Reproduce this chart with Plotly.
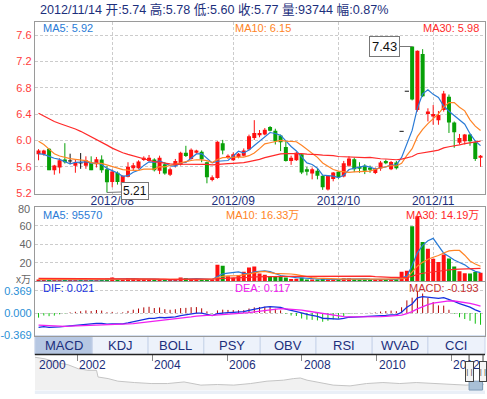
import plotly.graph_objects as go

# ---------------- data ----------------
month_idx = [14, 37, 57, 75]
month_labels = ["2012/08", "2012/09", "2012/10", "2012/11"]
price_ticks = [5.2, 5.6, 6.0, 6.4, 6.8, 7.2, 7.6]
vol_ticks = [20, 40, 60, 80]
macd_ticks = [-0.369, 0.0, 0.369]

opens = [5.79, 5.79, 5.875, 5.55, 5.59, 5.71, 5.69, 5.615, 5.66, 5.615,
         5.665, 5.64, 5.71, 5.565, 5.37, 5.51, 5.32, 5.45, 5.58, 5.58,
         5.705, 5.69, 5.71, 5.54, 5.64, 5.48, 5.615, 5.63, 5.815, 5.72,
         5.82, 5.83, 5.67, 5.40, 5.43, 5.96, 5.74, 5.70, 5.75, 5.77,
         5.865, 6.04, 6.08, 6.09, 6.205, 6.15, 6.075, 5.90, 5.69, 5.70,
         5.79, 5.565, 5.50, 5.54, 5.465, 5.255, 5.415, 5.525, 5.455, 5.615,
         5.715, 5.595, 5.615, 5.58, 5.505, 5.575, 5.69, 5.565, 5.665, 6.14,
         6.75, 7.43, 6.465, 7.315, 6.405, 6.365, 6.31, 6.465, 6.665, 6.275,
         5.965, 5.99, 6.09, 5.975, 5.74]
highs = [5.87, 5.86, 5.88, 5.63, 5.73, 5.96, 5.80, 5.71, 5.81, 5.76,
         5.76, 5.75, 5.775, 5.61, 5.56, 5.53, 5.47, 5.67, 5.66, 5.70,
         5.76, 5.78, 5.73, 5.77, 5.67, 5.59, 5.72, 5.83, 5.92, 5.88,
         5.86, 5.85, 5.68, 5.47, 5.99, 6.01, 5.79, 5.82, 5.81, 5.88,
         6.09, 6.31, 6.16, 6.19, 6.22, 6.18, 6.09, 5.99, 5.77, 5.83,
         5.80, 5.60, 5.59, 5.58, 5.47, 5.47, 5.52, 5.53, 5.69, 5.76,
         5.74, 5.67, 5.64, 5.62, 5.59, 5.69, 5.71, 5.69, 5.69, 6.14,
         6.75, 7.43, 7.37, 7.39, 6.49, 6.54, 6.45, 6.755, 6.70, 6.29,
         6.10, 6.10, 6.10, 5.99, 5.78]
lows = [5.70, 5.77, 5.55, 5.48, 5.50, 5.65, 5.64, 5.51, 5.57, 5.57,
        5.55, 5.59, 5.51, 5.21, 5.29, 5.33, 5.28, 5.44, 5.54, 5.57,
        5.69, 5.68, 5.53, 5.49, 5.48, 5.46, 5.59, 5.62, 5.75, 5.71,
        5.80, 5.67, 5.35, 5.38, 5.42, 5.79, 5.72, 5.69, 5.73, 5.76,
        5.85, 6.01, 6.05, 6.08, 6.14, 5.94, 5.84, 5.68, 5.63, 5.69,
        5.49, 5.47, 5.41, 5.41, 5.25, 5.24, 5.38, 5.42, 5.44, 5.60,
        5.52, 5.51, 5.49, 5.51, 5.49, 5.54, 5.64, 5.55, 5.56, 6.14,
        6.75, 6.61, 6.44, 6.66, 6.29, 6.24, 6.24, 6.44, 6.115, 5.89,
        5.94, 5.94, 5.92, 5.69, 5.60]
closes = [5.85, 5.85, 5.55, 5.62, 5.70, 5.67, 5.69, 5.665, 5.66, 5.70,
          5.55, 5.715, 5.55, 5.365, 5.53, 5.37, 5.465, 5.60, 5.625, 5.68,
          5.74, 5.74, 5.55, 5.74, 5.50, 5.565, 5.69, 5.815, 5.765, 5.86,
          5.85, 5.715, 5.44, 5.44, 5.98, 5.85, 5.77, 5.79, 5.80, 5.85,
          6.065, 6.115, 6.115, 6.165, 6.15, 5.99, 5.975, 5.69, 5.74, 5.815,
          5.515, 5.54, 5.565, 5.465, 5.29, 5.465, 5.515, 5.44, 5.655, 5.725,
          5.565, 5.585, 5.54, 5.565, 5.575, 5.665, 5.655, 5.675, 5.58, 6.14,
          6.75, 6.625, 7.365, 6.675, 6.44, 6.405, 6.39, 6.715, 6.275, 6.125,
          6.04, 6.09, 5.99, 5.72, 5.77]
volumes = [20000, 16000, 24000, 16000, 16000, 24000, 12000, 12000, 22000, 16000,
           16000, 16000, 24000, 30000, 42000, 20000, 16000, 38000, 38000, 24000,
           24000, 20000, 20000, 20000, 14000, 14000, 22000, 42000, 38000, 24000,
           20000, 16000, 24000, 20000, 180000, 170000, 55000, 40000, 68000, 105000,
           150000, 160000, 85000, 72000, 58000, 53000, 53000, 43000, 25000, 30000,
           40000, 20000, 20000, 20000, 25000, 20000, 20000, 20000, 35000, 35000,
           25000, 20000, 20000, 20000, 20000, 25000, 25000, 20000, 20000, 105000,
           115000, 597000, 704000, 427000, 352000, 246000, 210000, 290000, 248000, 161000,
           109000, 87000, 85000, 103000, 93744]

# moving-average values before enough history is visible
ma5_head = [5.80, 5.79, 5.76, 5.73]
ma10_head = [5.99, 5.94, 5.87, 5.80, 5.765, 5.74, 5.725, 5.715, 5.70]
ma30_head = [6.415, 6.37, 6.33, 6.29, 6.26, 6.235, 6.21, 6.175, 6.14, 6.10,
             6.06, 6.015, 5.975, 5.93, 5.885, 5.845, 5.815, 5.79, 5.765, 5.74,
             5.72, 5.70, 5.68, 5.665, 5.655, 5.645, 5.64, 5.64, 5.64]
vma5_head = [20000, 19000, 19000, 19000]
vma10_head = [22000, 22000, 21000, 21000, 21000, 20000, 20000, 20000, 19000]
vma30_head = [32000, 32000, 31000, 31000, 30000, 30000, 29000, 29000, 28000, 28000,
              27000, 27000, 27000, 26000, 26000, 26000, 25000, 25000, 25000, 25000,
              24000, 24000, 24000, 24000, 24000, 23000, 23000, 23000, 23000]
# EMA state before the first visible day (read from DIF/DEA start)
ema12_seed = 5.93
ema26_seed = 6.18
dea_seed = -0.19

nav_years = [2000.86, 2001.13, 2001.49, 2001.75, 2002.02, 2002.28, 2002.51, 2002.55,
             2002.82, 2003.08, 2003.52, 2003.97, 2004.41, 2004.85, 2005.30, 2005.74,
             2006.18, 2006.63, 2007.07, 2007.51, 2007.78, 2007.96, 2008.14, 2008.40,
             2008.84, 2009.29, 2009.73, 2010.17, 2010.62, 2011.06, 2011.50, 2011.94,
             2012.39, 2012.87]
nav_close = [16.6, 15.8, 13.8, 12.8, 10.8, 10.0, 10.0, 6.6,
             5.8, 4.5, 3.8, 3.3, 3.3, 4.1, 2.5, 2.8,
             2.5, 3.3, 4.5, 5.0, 5.8, 6.1, 5.0, 4.1,
             2.5, 2.1, 3.3, 3.8, 3.3, 3.8, 3.3, 2.8,
             2.5, 3.0]
nav_year_labels = [2000, 2002, 2004, 2006, 2008, 2010, 2012]
tab_names = ["MACD", "KDJ", "BOLL", "PSY", "OBV", "RSI", "WVAD", "CCI"]

header = "2012/11/14 开:5.74 高:5.78 低:5.60 收:5.77 量:93744 幅:0.87%"
ma_texts = ["MA5: 5.92", "MA10: 6.15", "MA30: 5.98"]
vma_texts = ["MA5: 95570", "MA10: 16.33万", "MA30: 14.19万"]
macd_texts = ["DIF: 0.021", "DEA: 0.117", "MACD: -0.193"]

# ---------------- derived series ----------------
n = len(closes)
idx = list(range(n))


def rolling(vals, w, head):
    out = list(head)
    for i in range(len(head), len(vals)):
        out.append(sum(vals[i - w + 1:i + 1]) / w)
    return out


ma5 = rolling(closes, 5, ma5_head)
ma10 = rolling(closes, 10, ma10_head)
ma30 = rolling(closes, 30, ma30_head)
vma5 = rolling(volumes, 5, vma5_head)
vma10 = rolling(volumes, 10, vma10_head)
vma30 = rolling(volumes, 30, vma30_head)

dif, dea, macd = [], [], []
e12, e26, d = ema12_seed, ema26_seed, dea_seed
for c in closes:
    e12 += (c - e12) * 2 / 13
    e26 += (c - e26) * 2 / 27
    df = e12 - e26
    d += (df - d) * 2 / 10
    dif.append(df)
    dea.append(d)
    macd.append(2 * (df - d))

RED = "#ff1010"
GREEN = "#08a008"
BLACK = "#111111"

cols = []
for i in idx:
    if closes[i] > opens[i]:
        cols.append(RED)
    elif closes[i] < opens[i]:
        cols.append(GREEN)
    else:
        cols.append(BLACK)
vcols = []
for i in idx:
    if closes[i] > opens[i]:
        vcols.append(RED)
    elif closes[i] < opens[i]:
        vcols.append(GREEN)
    else:
        prev = closes[i - 1] if i > 0 else closes[i]
        vcols.append(RED if closes[i] >= prev else GREEN)

# ---------------- figure ----------------
W, H = 487, 399


def px(x):
    return x / W


def py(y):
    return 1 - y / H


FONT = "Liberation Sans, Arial, Noto Sans CJK SC"
NAVY = "#1c2f7c"
GRID = "#cccccc"
XR = [-0.7, 84.85]
VOL_TOP_PX, VOL_BOT_PX, VOL_MAX = 209.7, 285.0, 80.3

fig = go.Figure()

# candle bodies
body_x, body_b, body_h, body_c = [], [], [], []
for i in idx:
    if opens[i] != closes[i]:
        body_x.append(i)
        body_b.append(min(opens[i], closes[i]))
        body_h.append(abs(closes[i] - opens[i]))
        body_c.append(cols[i])
fig.add_trace(go.Bar(x=body_x, y=body_h, base=body_b, marker_color=body_c,
                     marker_line_width=0, width=0.76, xaxis="x", yaxis="y",
                     hoverinfo="skip"))
# wicks and flat marks per colour
for colr in (RED, GREEN, BLACK):
    wx, wy = [], []
    for i in idx:
        if cols[i] != colr:
            continue
        if highs[i] > lows[i]:
            wx += [i, i, None]
            wy += [lows[i], highs[i], None]
        if opens[i] == closes[i]:
            wx += [i - 0.4, i + 0.4, None]
            wy += [closes[i], closes[i], None]
    fig.add_trace(go.Scatter(x=wx, y=wy, mode="lines", line=dict(color=colr, width=1),
                             xaxis="x", yaxis="y", hoverinfo="skip"))

C5, C10, C30 = "#2a7bd6", "#ff8426", "#ff2a2a"
for arr, c in ((ma5, C5), (ma10, C10), (ma30, C30)):
    fig.add_trace(go.Scatter(x=idx, y=arr, mode="lines", line=dict(color=c, width=1.2),
                             xaxis="x", yaxis="y", hoverinfo="skip"))

# volume
fig.add_trace(go.Bar(x=idx, y=[v / 1e4 for v in volumes], marker_color=vcols,
                     marker_line_width=0, width=0.76, xaxis="x2", yaxis="y2",
                     hoverinfo="skip"))
for arr, c in ((vma5, C5), (vma10, C10), (vma30, C30)):
    fig.add_trace(go.Scatter(x=idx, y=[v / 1e4 for v in arr], mode="lines",
                             line=dict(color=c, width=1.2), xaxis="x2", yaxis="y2",
                             hoverinfo="skip"))

# MACD histogram as thin sticks
for sign, colr in ((1, "#b00000"), (-1, "#10c010")):
    hx, hy = [], []
    for i in idx:
        if (macd[i] >= 0) == (sign > 0):
            hx += [i, i, None]
            hy += [0, macd[i], None]
    fig.add_trace(go.Scatter(x=hx, y=hy, mode="lines", line=dict(color=colr, width=1),
                             xaxis="x3", yaxis="y3", hoverinfo="skip"))
fig.add_trace(go.Scatter(x=idx, y=dif, mode="lines", line=dict(color="#1530e0", width=1.3),
                         xaxis="x3", yaxis="y3", hoverinfo="skip"))
fig.add_trace(go.Scatter(x=idx, y=dea, mode="lines", line=dict(color="#f020f0", width=1.3),
                         xaxis="x3", yaxis="y3", hoverinfo="skip"))

# navigator
fig.add_trace(go.Scatter(x=nav_years, y=nav_close, mode="lines", fill="tozeroy",
                         fillcolor="#f1f1f1", line=dict(color="#c4c4c4", width=1),
                         xaxis="x4", yaxis="y4", hoverinfo="skip"))

xdom = [px(33), px(485)]
common_x = dict(domain=xdom, range=XR, showline=True, linecolor="#9a9a9a", mirror=True,
                zeroline=False, ticks="", fixedrange=True)
gridkw = dict(showgrid=True, gridcolor=GRID, griddash="3px,2px", gridwidth=1)

fig.update_layout(
    width=W, height=H, margin=dict(l=0, r=0, t=0, b=0),
    paper_bgcolor="white", plot_bgcolor="white", showlegend=False,
    barmode="overlay", font=dict(family=FONT),
    xaxis=dict(**common_x, anchor="y", tickvals=month_idx, ticktext=month_labels,
               tickfont=dict(size=12, color=NAVY), ticklabelstandoff=-4, **gridkw),
    yaxis=dict(domain=[py(196), py(22)], range=[5.194, 7.807], anchor="x",
               tickvals=price_ticks, ticktext=["%.1f" % v for v in price_ticks],
               tickfont=dict(size=11, color="#ff3b3b"), showline=True, linecolor="#9a9a9a",
               mirror=True, zeroline=False, ticks="", **gridkw),
    xaxis2=dict(**common_x, anchor="y2", tickvals=month_idx, showticklabels=False, **gridkw),
    yaxis2=dict(domain=[py(VOL_BOT_PX), py(VOL_TOP_PX)], range=[0, VOL_MAX], anchor="x2",
                tickvals=vol_ticks[:-1], ticktext=[str(v) for v in vol_ticks[:-1]],
                tickfont=dict(size=11, color="#666666"), showline=True, linecolor="#9a9a9a",
                mirror=True, zeroline=False, ticks="", **gridkw),
    xaxis3=dict(**common_x, anchor="y3", showticklabels=False, showgrid=False),
    yaxis3=dict(domain=[py(340), py(286)], range=[-0.377, 0.508], anchor="x3",
                tickvals=macd_ticks, ticktext=["-0.369", "0.000", "0.369"],
                tickfont=dict(size=11, color="#2a8fd6"), showline=True, linecolor="#9a9a9a",
                mirror=True, zeroline=False, ticks="", **gridkw),
    xaxis4=dict(domain=xdom, range=[2000.86, 2012.9], anchor="y4", side="top",
                tickvals=[2002, 2004, 2006, 2008, 2010, 2012], ticks="inside", ticklen=6,
                tickcolor="#888888", showticklabels=False, showgrid=False, showline=False,
                zeroline=False, fixedrange=True),
    yaxis4=dict(domain=[py(395), py(359)], range=[0, 18], anchor="x4", visible=False,
                fixedrange=True),
)

ann = []


def label(text, X, Y, color, size=11, anchor="left"):
    ann.append(dict(text=text, x=px(X), y=py(Y), xref="paper", yref="paper",
                    xanchor=anchor, yanchor="middle", showarrow=False,
                    font=dict(size=size, color=color, family=FONT)))


label(header, 36, 10, NAVY, 12.6)
label(ma_texts[0], 39, 28, C5)
label(ma_texts[1], 232, 28, C10)
label(ma_texts[2], 481, 28, C30, anchor="right")
label(vma_texts[0], 39, 218, C5)
label(vma_texts[1], 223, 218, C10)
label(vma_texts[2], 481, 218, C30, anchor="right")
label(macd_texts[0], 39, 292, "#1530e0")
label(macd_texts[1], 232, 292, "#f020f0")
label(macd_texts[2], 481, 292, "#c83030", anchor="right")
label("x万", 31, 283, "#666666", 10, anchor="right")
# top volume tick label at the panel edge
top_v = vol_ticks[-1]
label(str(top_v), 30,
      VOL_BOT_PX - top_v / VOL_MAX * (VOL_BOT_PX - VOL_TOP_PX) + 1.5,
      "#666666", 11, anchor="right")

# low / high callouts
ann.append(dict(x=13, y=lows[13], xref="x", yref="y", text="%.2f" % lows[13],
                showarrow=True, arrowhead=0, arrowwidth=1, arrowcolor="#777777",
                ax=28, ay=-1, bgcolor="white", bordercolor="#777777", borderwidth=1,
                borderpad=1, font=dict(size=12, color="#111111", family=FONT)))
ann.append(dict(x=71, y=highs[71], xref="x", yref="y", text="%.2f" % highs[71],
                showarrow=True, arrowhead=0, arrowwidth=1, arrowcolor="#777777",
                ax=-28, ay=0, bgcolor="white", bordercolor="#777777", borderwidth=1,
                borderpad=2, font=dict(size=13, color="#111111", family=FONT)))

shapes = []
# tabs
tab_edges = [33, 90.7, 146.7, 202.7, 259.3, 315.3, 371.7, 427.7, 485]
for k, name in enumerate(tab_names):
    x0, x1 = tab_edges[k], tab_edges[k + 1]
    shapes.append(dict(type="rect", xref="paper", yref="paper", x0=px(x0), x1=px(x1),
                       y0=py(359), y1=py(340), line=dict(color="#c9d5ea", width=1),
                       fillcolor="#b6c7e2" if k == 0 else "#edf2fb", layer="below"))
    label(name, (x0 + x1) / 2, 350, NAVY, 13, anchor="center")

# navigator frame
shapes.append(dict(type="line", xref="paper", yref="paper", x0=px(33), x1=px(485),
                   y0=py(359), y1=py(359), line=dict(color="#222222", width=1.5)))
shapes.append(dict(type="rect", xref="paper", yref="paper", x0=px(33), x1=px(485),
                   y0=py(399), y1=py(395.5), line=dict(width=0), fillcolor="#e9eff7"))
shapes.append(dict(type="rect", xref="paper", yref="paper", x0=px(469), x1=px(482.5),
                   y0=py(395), y1=py(386), line=dict(color="#7f9cb8", width=1),
                   fillcolor="#a9c0d6"))

for yr in nav_year_labels:
    ann.append(dict(text=str(yr), x=max(yr, 2000.92), y=py(370), xref="x4", yref="paper",
                    xanchor="left", yanchor="middle", showarrow=False,
                    font=dict(size=12, color=NAVY, family=FONT)))

# range handles (drawn as annotations so they sit above the year labels)
for hx0, hx1 in ((464.5, 473.5), (479, 487)):
    shapes.append(dict(type="line", xref="paper", yref="paper", x0=px((hx0 + hx1) / 2),
                       x1=px((hx0 + hx1) / 2), y0=py(359), y1=py(366),
                       line=dict(color="#444444", width=1)))
    ann.append(dict(text="| |", x=px((hx0 + hx1) / 2), y=py(376.5), xref="paper",
                    yref="paper", xanchor="center", yanchor="middle", showarrow=False,
                    width=hx1 - hx0 - 2, height=19, borderpad=0, bgcolor="#f5f5f5",
                    bordercolor="#444444", borderwidth=1,
                    font=dict(size=8, color="#444444", family=FONT)))

fig.update_layout(annotations=ann, shapes=shapes)
fig.write_html(
    "out.html", config={"displayModeBar": False},
    post_script=("document.documentElement.style.margin='0';"
                 "document.documentElement.style.overflow='hidden';"
                 "document.body.style.margin='0';document.body.style.padding='0';"
                 "document.body.style.overflow='hidden';window.scrollTo(0,0);"))
